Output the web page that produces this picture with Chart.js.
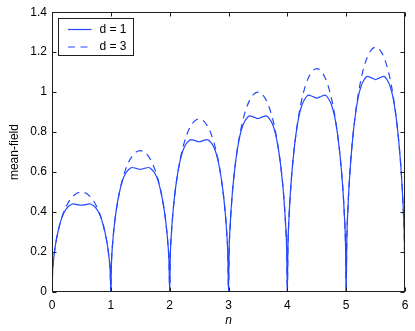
<!DOCTYPE html>
<html><head><meta charset="utf-8">
<script src="https://cdn.jsdelivr.net/npm/chart.js@4.4.1/dist/chart.umd.min.js"></script>
<style>html,body{margin:0;padding:0;background:#fff;}#wrap{width:415px;height:331px;}</style>
</head><body><div id="wrap"><canvas id="c" width="415" height="331"></canvas></div>
<script>
const nValues = [
0,0.01,0.03,0.06,0.1,0.15,0.2,0.25,0.3,0.36,0.43,0.5,0.57,0.64,0.7,0.75,0.8,0.85,0.9,0.94,0.97,0.99,
1,1.01,1.03,1.06,1.1,1.15,1.2,1.25,1.3,1.36,1.43,1.5,1.57,1.64,1.7,1.75,1.8,1.85,1.9,1.94,1.97,1.99,
2,2.01,2.03,2.06,2.1,2.15,2.2,2.25,2.3,2.36,2.43,2.5,2.57,2.64,2.7,2.75,2.8,2.85,2.9,2.94,2.97,2.99,
3,3.01,3.03,3.06,3.1,3.15,3.2,3.25,3.3,3.36,3.43,3.5,3.57,3.64,3.7,3.75,3.8,3.85,3.9,3.94,3.97,3.99,
4,4.01,4.03,4.06,4.1,4.15,4.2,4.25,4.3,4.36,4.43,4.5,4.57,4.64,4.7,4.75,4.8,4.85,4.9,4.94,4.97,4.99,
5,5.01,5.03,5.06,5.1,5.15,5.2,5.25,5.3,5.36,5.43,5.5,5.57,5.64,5.7,5.75,5.8,5.85,5.9,5.94,5.97,5.99,
6];
const meanFieldD1 = [
0,0.0995,0.1705,0.2375,0.3,0.356,0.395,0.419,0.4325,0.4405,0.4375,0.434,0.4375,0.4405,0.4325,0.419,0.395,0.356,0.3,0.2375,0.1705,0.0995,
0,0.1407,0.2411,0.3359,0.4243,0.5035,0.5586,0.5926,0.6116,0.623,0.6187,0.6138,0.6187,0.623,0.6116,0.5926,0.5586,0.5035,0.4243,0.3359,0.2411,0.1407,
0,0.1723,0.2953,0.4114,0.5196,0.6166,0.6841,0.7257,0.7491,0.7629,0.7578,0.7517,0.7578,0.7629,0.7491,0.7257,0.6841,0.6166,0.5196,0.4114,0.2953,0.1723,
0,0.199,0.341,0.475,0.6,0.712,0.79,0.838,0.865,0.881,0.875,0.868,0.875,0.881,0.865,0.838,0.79,0.712,0.6,0.475,0.341,0.199,
0,0.2225,0.3812,0.5311,0.6708,0.796,0.8832,0.9369,0.9671,0.985,0.9783,0.9704,0.9783,0.985,0.9671,0.9369,0.8832,0.796,0.6708,0.5311,0.3812,0.2225,
0,0.2437,0.4176,0.5817,0.7348,0.872,0.9675,1.0263,1.0594,1.079,1.0716,1.063,1.0716,1.079,1.0594,1.0263,0.9675,0.872,0.7348,0.5817,0.4176,0.2437,
0];
const meanFieldD3 = [
0,0.0995,0.1705,0.2375,0.3,0.357,0.4,0.433,0.4585,0.48,0.495,0.5,0.495,0.48,0.4585,0.433,0.4,0.357,0.3,0.2375,0.1705,0.0995,
0,0.1407,0.2411,0.3359,0.4243,0.5049,0.5657,0.6124,0.6484,0.6788,0.7,0.7071,0.7,0.6788,0.6484,0.6124,0.5657,0.5049,0.4243,0.3359,0.2411,0.1407,
0,0.1723,0.2953,0.4114,0.5196,0.6183,0.6928,0.75,0.7941,0.8314,0.8573,0.866,0.8573,0.8314,0.7941,0.75,0.6928,0.6183,0.5196,0.4114,0.2953,0.1723,
0,0.199,0.341,0.475,0.6,0.714,0.8,0.866,0.917,0.96,0.99,1,0.99,0.96,0.917,0.866,0.8,0.714,0.6,0.475,0.341,0.199,
0,0.2225,0.3812,0.5311,0.6708,0.7983,0.8944,0.9682,1.0252,1.0733,1.1068,1.118,1.1068,1.0733,1.0252,0.9682,0.8944,0.7983,0.6708,0.5311,0.3812,0.2225,
0,0.2437,0.4176,0.5817,0.7348,0.8744,0.9798,1.0606,1.123,1.1757,1.2125,1.2247,1.2125,1.1757,1.123,1.0606,0.9798,0.8744,0.7348,0.5817,0.4176,0.2437,
0];
const seriesLabels = ['d = 1', 'd = 3'];
const xTickValues = [0, 1, 2, 3, 4, 5, 6];
const xTickLabels = ['0', '1', '2', '3', '4', '5', '6'];
const yTickValues = [0, 0.2, 0.4, 0.6, 0.8, 1, 1.2, 1.4];
const yTickLabels = ['0', '0.2', '0.4', '0.6', '0.8', '1', '1.2', '1.4'];
const xTitle = 'n';
const yTitle = 'mean-field';

const FONT = '"Liberation Sans", Arial, Helvetica, sans-serif';
const LINE = '#2447ff';
const AXIS = '#1e1e1e';

function pts(ys) { return nValues.map((x, i) => ({ x: x, y: ys[i] })); }

const boxPlugin = {
  id: 'boxTicks',
  afterDatasetsDraw(chart) {
    const { ctx, chartArea: a, scales: { x, y } } = chart;
    const L = Math.round(a.left) + 0.5, R = Math.round(a.right) - 0.5;
    const T = Math.round(a.top) + 0.5, B = Math.round(a.bottom) - 0.5;
    const tl = 4;
    ctx.save();
    ctx.strokeStyle = AXIS;
    ctx.lineWidth = 1;
    ctx.beginPath();
    x.ticks.forEach(t => {
      const px = Math.round(x.getPixelForValue(t.value)) + 0.5;
      ctx.moveTo(px, B); ctx.lineTo(px, B - tl);
      ctx.moveTo(px, T); ctx.lineTo(px, T + tl);
    });
    y.ticks.forEach(t => {
      const py = Math.round(y.getPixelForValue(t.value)) + 0.5;
      ctx.moveTo(L, py); ctx.lineTo(L + tl, py);
      ctx.moveTo(R, py); ctx.lineTo(R - tl, py);
    });
    ctx.stroke();
    ctx.strokeRect(L, T, R - L, B - T);
    ctx.restore();
  },
  afterDraw(chart) {
    const { ctx, chartArea: a } = chart;
    const bx = Math.round(a.left) + 6.5, by = Math.round(a.top) + 6.5;
    const bw = 75, bh = 37;
    ctx.save();
    ctx.fillStyle = '#fff';
    ctx.fillRect(bx, by, bw, bh);
    ctx.strokeStyle = AXIS;
    ctx.lineWidth = 1;
    ctx.strokeRect(bx, by, bw, bh);
    chart.data.datasets.forEach((ds, i) => {
      const cy = by + 11 + i * 17.5;
      ctx.strokeStyle = ds.borderColor;
      ctx.lineWidth = ds.borderWidth;
      ctx.setLineDash(ds.borderDash || []);
      ctx.beginPath();
      ctx.moveTo(bx + 9.5, cy); ctx.lineTo(bx + 33, cy);
      ctx.stroke();
      ctx.setLineDash([]);
      ctx.fillStyle = '#000';
      ctx.font = '12px ' + FONT;
      ctx.textAlign = 'left';
      ctx.textBaseline = 'middle';
      ctx.fillText(ds.label, bx + 41, cy);
    });
    ctx.restore();
  }
};

new Chart(document.getElementById('c'), {
  type: 'line',
  data: {
    datasets: [
      { label: seriesLabels[0], data: pts(meanFieldD1), borderColor: LINE, borderWidth: 1.2,
        pointRadius: 0, fill: false, cubicInterpolationMode: 'monotone', order: 1 },
      { label: seriesLabels[1], data: pts(meanFieldD3), borderColor: LINE, borderWidth: 1.2,
        borderDash: [7, 5.5], pointRadius: 0, fill: false, cubicInterpolationMode: 'monotone', order: 2 }
    ]
  },
  options: {
    responsive: false,
    devicePixelRatio: 1,
    animation: false,
    layout: { padding: { top: 12, right: 10, left: 0, bottom: 0 } },
    plugins: { legend: { display: false }, tooltip: { enabled: false } },
    scales: {
      x: {
        type: 'linear', min: 0, max: 6,
        afterBuildTicks: s => { s.ticks = xTickValues.map(v => ({ value: v })); },
        afterFit: s => { s.height = 39; },
        grid: { display: false, drawTicks: false },
        border: { display: false },
        ticks: { padding: 6, color: '#000', font: { family: FONT, size: 12 },
                 callback: (v, i) => xTickLabels[i] },
        title: { display: true, text: xTitle, color: '#000',
                 font: { family: FONT, size: 12, style: 'italic' }, padding: { top: 0, bottom: 3 } }
      },
      y: {
        type: 'linear', min: 0, max: 1.4,
        afterBuildTicks: s => { s.ticks = yTickValues.map(v => ({ value: v })); },
        afterFit: s => { s.width = 52; },
        grid: { display: false, drawTicks: false },
        border: { display: false },
        ticks: { padding: 5, color: '#000', font: { family: FONT, size: 12 },
                 callback: (v, i) => yTickLabels[i] },
        title: { display: true, text: yTitle, color: '#000',
                 font: { family: FONT, size: 12 }, padding: { top: 7, bottom: 0 } }
      }
    }
  },
  plugins: [boxPlugin]
});
</script></body></html>
